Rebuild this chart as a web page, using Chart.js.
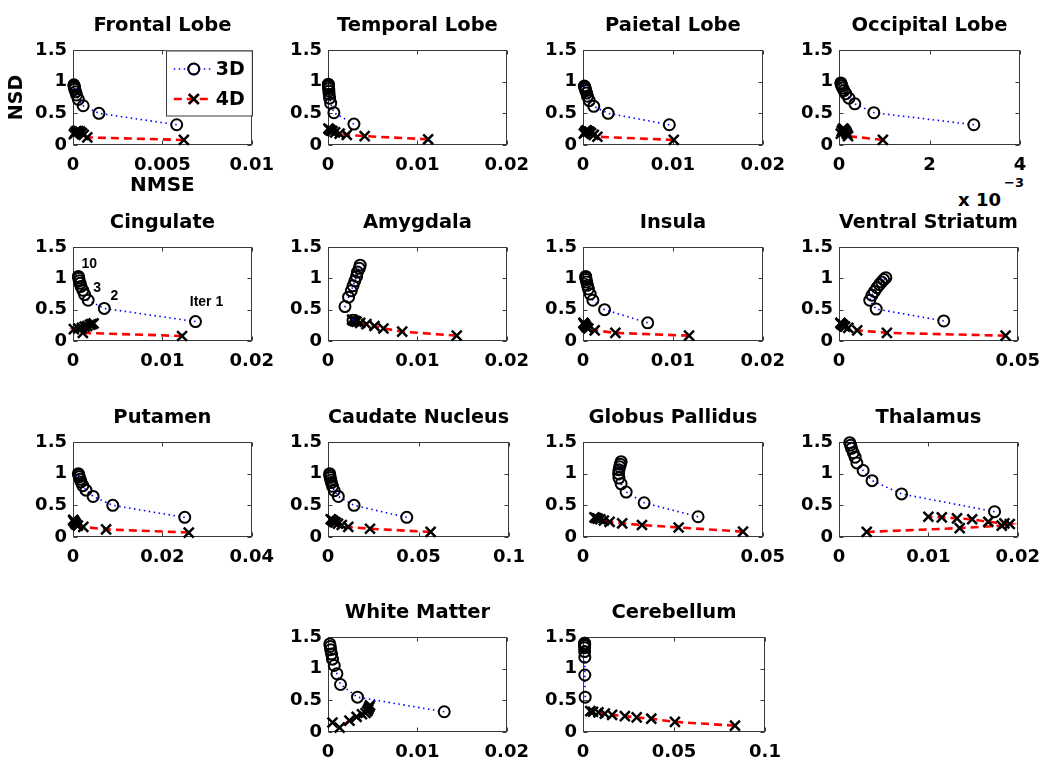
<!DOCTYPE html>
<html>
<head>
<meta charset="utf-8">
<script src="https://cdn.jsdelivr.net/npm/chart.js@4/dist/chart.umd.min.js"></script>
<style>
  body { margin: 0; background: #fff; width: 1050px; height: 764px; position: relative; overflow: hidden; }
  canvas { position: absolute; }
  .exp { position: absolute; font-family: "DejaVu Sans", sans-serif; font-weight: bold; white-space: nowrap; color: #000; }
</style>
</head>
<body>
<div class="exp" style="left:958px; top:190px; font-size:18px; line-height:20px;">x 10</div>
<div class="exp" style="left:1004px; top:176px; font-size:13px; line-height:14px;">−3</div>
<script>
// ---- data ----
const panelTitles = ['Frontal Lobe', 'Temporal Lobe', 'Paietal Lobe', 'Occipital Lobe',
  'Cingulate', 'Amygdala', 'Insula', 'Ventral Striatum',
  'Putamen', 'Caudate Nucleus', 'Globus Pallidus', 'Thalamus',
  'White Matter', 'Cerebellum'];

const xMax = [0.01, 0.02, 0.02, 0.004, 0.02, 0.02, 0.02, 0.05, 0.04, 0.1, 0.05, 0.02, 0.02, 0.1];
const xTicks = [
  [0, 0.005, 0.01], [0, 0.01, 0.02], [0, 0.01, 0.02], [0, 0.002, 0.004],
  [0, 0.01, 0.02], [0, 0.01, 0.02], [0, 0.01, 0.02], [0, 0.05],
  [0, 0.02, 0.04], [0, 0.05, 0.1], [0, 0.05], [0, 0.01, 0.02],
  [0, 0.01, 0.02], [0, 0.05, 0.1]
];
const xTickLabels = [
  ['0', '0.005', '0.01'], ['0', '0.01', '0.02'], ['0', '0.01', '0.02'], ['0', '2', '4'],
  ['0', '0.01', '0.02'], ['0', '0.01', '0.02'], ['0', '0.01', '0.02'], ['0', '0.05'],
  ['0', '0.02', '0.04'], ['0', '0.05', '0.1'], ['0', '0.05'], ['0', '0.01', '0.02'],
  ['0', '0.01', '0.02'], ['0', '0.05', '0.1']
];
const yTicks = [0, 0.5, 1, 1.5];
const yTickLabels = ['0', '0.5', '1', '1.5'];

// 3D reconstruction, iterations 1..10
const nmse3D = [
  [0.0058, 0.00145, 0.00057, 0.0003, 0.0002, 0.00015, 0.0001, 0.00008, 0.00006, 0.00005],
  [0.0029, 0.00066, 0.0003, 0.00018, 0.00013, 0.0001, 0.00008, 0.00006, 0.00005, 0.00004],
  [0.0096, 0.0028, 0.0012, 0.0007, 0.0005, 0.0004, 0.0003, 0.00025, 0.0002, 0.00015],
  [0.00298, 0.00077, 0.00035, 0.00022, 0.00015, 0.00011, 0.00008, 0.00006, 0.00005, 0.00004],
  [0.0137, 0.0035, 0.0017, 0.0013, 0.0011, 0.0009, 0.0008, 0.0007, 0.00065, 0.0006],
  [0.0028, 0.0019, 0.0023, 0.0026, 0.0028, 0.003, 0.0032, 0.0033, 0.0035, 0.0036],
  [0.0072, 0.0024, 0.0011, 0.0008, 0.0006, 0.0005, 0.0004, 0.00035, 0.0003, 0.0003],
  [0.0293, 0.0104, 0.0086, 0.0092, 0.0099, 0.0106, 0.0113, 0.0119, 0.0125, 0.0131],
  [0.025, 0.0089, 0.0045, 0.0029, 0.0022, 0.0018, 0.0016, 0.0014, 0.0013, 0.0012],
  [0.0435, 0.0144, 0.0057, 0.0035, 0.0025, 0.0019, 0.0015, 0.0012, 0.001, 0.0009],
  [0.032, 0.017, 0.012, 0.0106, 0.01, 0.0099, 0.01, 0.0102, 0.0104, 0.0106],
  [0.0174, 0.007, 0.0037, 0.0027, 0.002, 0.0018, 0.0016, 0.0014, 0.0013, 0.0012],
  [0.013, 0.0033, 0.0014, 0.001, 0.0007, 0.0005, 0.0004, 0.0003, 0.00025, 0.0002],
  [0.0012, 0.001, 0.001, 0.0009, 0.0009, 0.0009, 0.0009, 0.0009, 0.0009, 0.0009]
];
const nsd3D = [
  [0.32, 0.50, 0.62, 0.72, 0.79, 0.84, 0.88, 0.91, 0.93, 0.95],
  [0.33, 0.51, 0.66, 0.74, 0.80, 0.85, 0.89, 0.92, 0.94, 0.96],
  [0.32, 0.50, 0.61, 0.70, 0.77, 0.82, 0.86, 0.89, 0.91, 0.93],
  [0.32, 0.51, 0.65, 0.74, 0.81, 0.86, 0.90, 0.93, 0.96, 0.98],
  [0.31, 0.52, 0.65, 0.74, 0.81, 0.87, 0.92, 0.96, 1.00, 1.03],
  [0.33, 0.55, 0.70, 0.80, 0.88, 0.96, 1.03, 1.10, 1.16, 1.21],
  [0.29, 0.50, 0.65, 0.75, 0.83, 0.89, 0.94, 0.98, 1.01, 1.03],
  [0.32, 0.51, 0.65, 0.73, 0.79, 0.85, 0.90, 0.94, 0.98, 1.01],
  [0.31, 0.50, 0.64, 0.74, 0.81, 0.87, 0.91, 0.95, 0.98, 1.00],
  [0.31, 0.50, 0.64, 0.73, 0.80, 0.86, 0.90, 0.94, 0.97, 1.00],
  [0.32, 0.54, 0.71, 0.84, 0.93, 1.00, 1.06, 1.11, 1.15, 1.19],
  [0.40, 0.68, 0.89, 1.05, 1.17, 1.26, 1.33, 1.40, 1.45, 1.49],
  [0.32, 0.55, 0.75, 0.92, 1.05, 1.15, 1.23, 1.30, 1.35, 1.39],
  [0.55, 0.90, 1.18, 1.27, 1.33, 1.36, 1.38, 1.39, 1.40, 1.40]
];

// 4D reconstruction, iterations 1..10
const nmse4D = [
  [0.0062, 0.0008, 0.0006, 0.0005, 0.0004, 0.0003, 0.0002, 0.00015, 0.0001, 0.00005],
  [0.0112, 0.0041, 0.0021, 0.0013, 0.0008, 0.0005, 0.0003, 0.0002, 0.0001, 0.00005],
  [0.0101, 0.0016, 0.0012, 0.0009, 0.0007, 0.0005, 0.0004, 0.0003, 0.0002, 0.0001],
  [0.00097, 0.0002, 0.00018, 0.00016, 0.00014, 0.00012, 0.0001, 0.00008, 0.00006, 0.00004],
  [0.0122, 0.0011, 0.0001, 0.0006, 0.001, 0.0013, 0.0016, 0.0019, 0.0021, 0.0023],
  [0.0144, 0.0083, 0.0062, 0.0052, 0.0043, 0.0036, 0.0032, 0.003, 0.0028, 0.0027],
  [0.0118, 0.0036, 0.0013, 0.0006, 0.0004, 0.0003, 0.0002, 0.00015, 0.0001, 0.00005],
  [0.0466, 0.0134, 0.0051, 0.0026, 0.0017, 0.0012, 0.0009, 0.0007, 0.0005, 0.0004],
  [0.0259, 0.0074, 0.0023, 0.0011, 0.0007, 0.0005, 0.0003, 0.0002, 0.0001, 0.00005],
  [0.0567, 0.0232, 0.0112, 0.0076, 0.0055, 0.0042, 0.0033, 0.0026, 0.002, 0.0015],
  [0.0445, 0.0266, 0.0164, 0.0109, 0.0074, 0.0058, 0.0048, 0.0041, 0.0036, 0.0032],
  [0.0031, 0.0135, 0.0182, 0.0191, 0.0185, 0.0167, 0.0149, 0.0132, 0.0115, 0.01],
  [0.0005, 0.0013, 0.0024, 0.0032, 0.0038, 0.0042, 0.0044, 0.0045, 0.0046, 0.0047],
  [0.0835, 0.0505, 0.0375, 0.0295, 0.023, 0.016, 0.012, 0.0085, 0.0055, 0.004]
];
const nsd4D = [
  [0.08, 0.12, 0.16, 0.19, 0.21, 0.22, 0.22, 0.21, 0.19, 0.17],
  [0.09, 0.14, 0.16, 0.18, 0.20, 0.22, 0.23, 0.24, 0.25, 0.26],
  [0.08, 0.13, 0.16, 0.19, 0.21, 0.22, 0.23, 0.22, 0.20, 0.18],
  [0.08, 0.14, 0.17, 0.20, 0.22, 0.24, 0.26, 0.25, 0.22, 0.18],
  [0.08, 0.13, 0.19, 0.20, 0.21, 0.23, 0.24, 0.26, 0.27, 0.28],
  [0.085, 0.15, 0.20, 0.24, 0.27, 0.29, 0.31, 0.32, 0.33, 0.34],
  [0.085, 0.13, 0.17, 0.20, 0.22, 0.24, 0.26, 0.27, 0.28, 0.29],
  [0.085, 0.13, 0.17, 0.21, 0.23, 0.25, 0.26, 0.27, 0.28, 0.29],
  [0.07, 0.12, 0.16, 0.18, 0.20, 0.22, 0.24, 0.25, 0.26, 0.27],
  [0.08, 0.13, 0.16, 0.19, 0.21, 0.23, 0.24, 0.26, 0.27, 0.28],
  [0.085, 0.15, 0.19, 0.215, 0.24, 0.26, 0.28, 0.29, 0.30, 0.31],
  [0.08, 0.14, 0.18, 0.205, 0.215, 0.24, 0.28, 0.295, 0.31, 0.32],
  [0.15, 0.07, 0.18, 0.24, 0.28, 0.30, 0.33, 0.36, 0.39, 0.42],
  [0.10, 0.16, 0.21, 0.23, 0.25, 0.27, 0.29, 0.31, 0.32, 0.33]
];

// iteration labels shown in the Cingulate panel
const iterLabelIdx = [0, 1, 2, 9];
const iterLabels = ['Iter 1', '2', '3', '10'];

// ---- layout ----
const boxL = [73, 328, 583, 839], boxR = [254, 509, 765, 1020];
const boxT = [50, 247, 442, 637], boxB = [145, 341, 537, 732];
const panelCell = [[0,0],[0,1],[0,2],[0,3],[1,0],[1,1],[1,2],[1,3],[2,0],[2,1],[2,2],[2,3],[3,1],[3,2]];
const Y_W = 67, X_H = 53, TOP_H = 40, RIGHT_PAD = 30;
const FONT = '"DejaVu Sans", sans-serif';

// Matlab-style box with inward ticks on all four sides
const boxPlugin = {
  id: 'mbox',
  beforeDatasetsDraw(chart) {
    const { ctx, chartArea: a, scales } = chart;
    const l = Math.round(a.left) + 0.5, r = Math.round(a.right) - 0.5;
    const t = Math.round(a.top) + 0.5, b = Math.round(a.bottom) - 0.5;
    ctx.save();
    ctx.strokeStyle = '#3a3a3a';
    ctx.lineWidth = 1;
    ctx.strokeRect(l, t, r - l, b - t);
    ctx.beginPath();
    scales.x.ticks.forEach(tk => {
      const px = Math.round(scales.x.getPixelForValue(tk.value)) + 0.5;
      ctx.moveTo(px, b); ctx.lineTo(px, b - 4);
      ctx.moveTo(px, t); ctx.lineTo(px, t + 4);
    });
    scales.y.ticks.forEach(tk => {
      const py = Math.round(scales.y.getPixelForValue(tk.value)) + 0.5;
      ctx.moveTo(l, py); ctx.lineTo(l + 4, py);
      ctx.moveTo(r, py); ctx.lineTo(r - 4, py);
    });
    ctx.stroke();
    ctx.restore();
  }
};

// legend box drawn inside the first panel
const legendPlugin = {
  id: 'mlegend',
  afterDraw(chart, args, opts) {
    if (!opts.show) return;
    const { ctx, chartArea: a } = chart;
    const x0 = a.right - 86, y0 = a.top + 0.5;
    ctx.save();
    ctx.fillStyle = '#fff';
    ctx.fillRect(x0, y0, 86, 65);
    ctx.strokeStyle = '#3a3a3a';
    ctx.lineWidth = 1;
    ctx.strokeRect(Math.round(x0) + 0.5, Math.round(y0), 86, 65);
    const rows = [
      { y: a.top + 19, text: '3D', ds: chart.data.datasets[0] },
      { y: a.top + 49, text: '4D', ds: chart.data.datasets[1] }
    ];
    rows.forEach(rw => {
      ctx.beginPath();
      ctx.setLineDash(rw.ds.borderDash);
      ctx.strokeStyle = rw.ds.borderColor;
      ctx.lineWidth = rw.ds.borderWidth;
      ctx.moveTo(a.right - 78, rw.y); ctx.lineTo(a.right - 41, rw.y);
      ctx.stroke();
      ctx.setLineDash([]);
      Chart.helpers.drawPoint(ctx, {
        pointStyle: rw.ds.pointStyle, radius: rw.ds.pointRadius, rotation: 0,
        borderWidth: rw.ds.pointBorderWidth
      }, a.right - 58, rw.y);
      ctx.strokeStyle = '#000';
      ctx.lineWidth = rw.ds.pointBorderWidth;
      ctx.fillStyle = 'rgba(0,0,0,0)';
      ctx.stroke();
      ctx.fillStyle = '#000';
      ctx.font = 'bold 19px ' + FONT;
      ctx.textBaseline = 'middle';
      ctx.textAlign = 'left';
      ctx.fillText(rw.text, a.right - 36, rw.y + 1);
    });
    ctx.restore();
  }
};

// iteration numbers in the Cingulate panel
const iterPlugin = {
  id: 'iters',
  afterDatasetsDraw(chart, args, opts) {
    if (!opts.show) return;
    const meta = chart.getDatasetMeta(0);
    const offs = [[11, -19], [10, -12], [9, -12], [11, -12]];
    const { ctx } = chart;
    ctx.save();
    ctx.fillStyle = '#000';
    ctx.font = 'bold 14px "Liberation Sans", sans-serif';
    ctx.textAlign = 'center';
    ctx.textBaseline = 'middle';
    iterLabelIdx.forEach((idx, k) => {
      const el = meta.data[idx];
      ctx.fillText(iterLabels[k], el.x + offs[k][0], el.y + offs[k][1]);
    });
    ctx.restore();
  }
};

panelTitles.forEach((title, i) => {
  const [row, col] = panelCell[i];
  const bw = boxR[col] - boxL[col], bh = boxB[row] - boxT[row];
  const cv = document.createElement('canvas');
  cv.width = Y_W + bw + RIGHT_PAD;
  cv.height = TOP_H + bh + X_H;
  cv.style.left = (boxL[col] - Y_W) + 'px';
  cv.style.top = (boxT[row] - TOP_H) + 'px';
  document.body.appendChild(cv);

  const pts3 = nmse3D[i].map((v, k) => ({ x: v, y: nsd3D[i][k] }));
  const pts4 = nmse4D[i].map((v, k) => ({ x: v, y: nsd4D[i][k] }));

  new Chart(cv, {
    type: 'scatter',
    data: {
      datasets: [
        { label: '3D', data: pts3, showLine: true, borderColor: '#0000ff', borderWidth: 1.6,
          borderDash: [1.5, 3.5], pointStyle: 'circle', pointRadius: 5.5, pointBorderWidth: 2,
          pointBorderColor: '#000', pointBackgroundColor: 'rgba(0,0,0,0)', clip: false },
        { label: '4D', data: pts4, showLine: true, borderColor: '#ff0000', borderWidth: 2.6,
          borderDash: [8, 5], pointStyle: 'crossRot', pointRadius: 7, pointBorderWidth: 2.5,
          pointBorderColor: '#000', pointBackgroundColor: '#000', clip: false }
      ]
    },
    options: {
      responsive: false,
      animation: false,
      events: [],
      layout: { padding: { top: 0, right: RIGHT_PAD, left: 0, bottom: 0 } },
      plugins: {
        legend: { display: false },
        tooltip: { enabled: false },
        title: {
          display: true, text: title, fullSize: false, color: '#000',
          font: { family: FONT, size: 19.5, weight: 'bold', lineHeight: 1.2 },
          padding: { top: 4, bottom: 12.6 }
        },
        mlegend: { show: i === 0 },
        iters: { show: i === 4 }
      },
      scales: {
        x: {
          type: 'linear', min: 0, max: xMax[i],
          afterBuildTicks: s => { s.ticks = xTicks[i].map(v => ({ value: v })); },
          afterFit: s => { s.height = X_H; },
          grid: { display: false, drawTicks: false },
          border: { display: false },
          ticks: {
            autoSkip: false, maxRotation: 0, padding: 10, color: '#000',
            font: { family: FONT, size: 18, weight: 'bold' },
            callback: (v, idx) => xTickLabels[i][idx]
          },
          title: {
            display: i === 0, text: 'NMSE', color: '#000', padding: 0,
            font: { family: FONT, size: 20, weight: 'bold', lineHeight: 1.2 }
          }
        },
        y: {
          type: 'linear', min: 0, max: 1.5,
          afterBuildTicks: s => { s.ticks = yTicks.map(v => ({ value: v })); },
          afterFit: s => { s.width = Y_W; },
          grid: { display: false, drawTicks: false },
          border: { display: false },
          ticks: {
            padding: 6, color: '#000',
            font: { family: FONT, size: 18, weight: 'bold' },
            callback: (v, idx) => yTickLabels[idx]
          },
          title: {
            display: i === 0, text: 'NSD', color: '#000', padding: 0,
            font: { family: FONT, size: 19, weight: 'bold', lineHeight: 1.2 }
          }
        }
      }
    },
    plugins: [boxPlugin, legendPlugin, iterPlugin]
  });
});
</script>
</body>
</html>
